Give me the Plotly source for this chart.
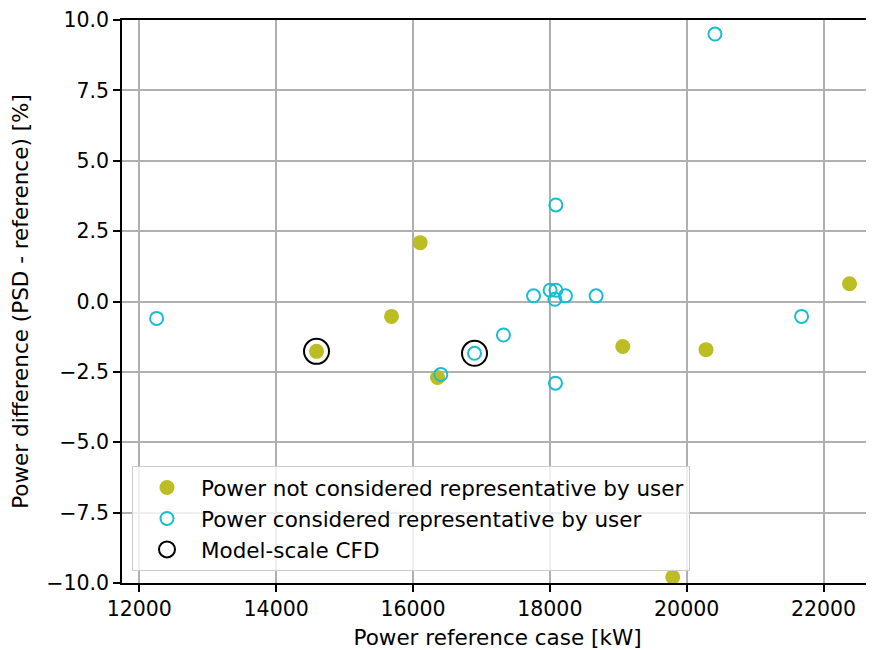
import plotly.graph_objects as go

# Power not considered representative by user
x_not_rep = [14590, 15686, 16105, 16358, 19066, 20282, 19796, 22380]
y_not_rep = [-1.77, -0.53, 2.09, -2.70, -1.60, -1.71, -9.79, 0.63]

# Power considered representative by user
x_rep = [12253, 16407, 16899, 17322, 17762, 18004, 18088, 18073, 18228,
         18676, 18088, 18082, 20413, 21679]
y_rep = [-0.60, -2.59, -1.84, -1.19, 0.20, 0.40, 0.40, 0.08, 0.20,
         0.20, 3.43, -2.90, 9.50, -0.53]

# Model-scale CFD cases
x_cfd = [14590, 16899]
y_cfd = [-1.77, -1.84]

x_ticks = [12000, 14000, 16000, 18000, 20000, 22000]
y_ticks = [-10, -7.5, -5, -2.5, 0, 2.5, 5, 7.5, 10]
y_ticklabels = [f"{v:.1f}".replace("-", "\u2212") for v in y_ticks]

OLIVE = "#bcbd22"
CYAN = "#17becf"

fig = go.Figure()

fig.add_trace(go.Scatter(
    x=x_not_rep, y=y_not_rep, mode="markers",
    name="Power not considered representative by user",
    marker=dict(color=OLIVE, size=15, line=dict(width=0)),
))
fig.add_trace(go.Scatter(
    x=x_rep, y=y_rep, mode="markers",
    name="Power considered representative by user",
    marker=dict(symbol="circle-open", color=CYAN, size=13,
                line=dict(width=2, color=CYAN)),
))
fig.add_trace(go.Scatter(
    x=x_cfd, y=y_cfd, mode="markers",
    name="Model-scale CFD",
    marker=dict(symbol="circle-open", color="black", size=25,
                line=dict(width=2, color="black")),
))

fig.update_xaxes(
    range=[11747, 22723],
    tickvals=x_ticks, ticktext=[str(v) for v in x_ticks],
    tickfont=dict(size=20.5), ticklabeloverflow="allow",
    showgrid=True, gridcolor="#b0b0b0", gridwidth=1.5,
    showline=True, linecolor="black", linewidth=1.5, mirror=True,
    ticks="outside", ticklen=7, tickwidth=1.5, tickcolor="black",
    zeroline=False, automargin=False,
    title=dict(text="Power reference case [kW]", standoff=10,
               font=dict(size=21.5)),
)
fig.update_yaxes(
    range=[-10, 10],
    tickvals=y_ticks, ticktext=y_ticklabels,
    tickfont=dict(size=20.5), ticklabeloverflow="allow",
    showgrid=True, gridcolor="#b0b0b0", gridwidth=1.5,
    showline=True, linecolor="black", linewidth=1.5,
    ticks="outside", ticklen=7, tickwidth=1.5, tickcolor="black",
    zeroline=False, automargin=False,
    title=dict(text="Power difference (PSD - reference) [%]", standoff=28,
               font=dict(size=21.5)),
)

# the page puts the figure 8px in from the corner, so margins are shifted
fig.update_layout(
    width=874, height=652,
    margin=dict(l=114, r=9, t=12, b=77),
    plot_bgcolor="white", paper_bgcolor="white",
    font=dict(family="DejaVu Sans", size=18, color="black"),
    legend=dict(
        x=0.0133, y=0.0213, xanchor="left", yanchor="bottom",
        bgcolor="rgba(255,255,255,0.8)", bordercolor="#cccccc", borderwidth=1,
        font=dict(size=21.5), itemsizing="trace", itemwidth=58,
    ),
)

fig.write_html("out.html")
